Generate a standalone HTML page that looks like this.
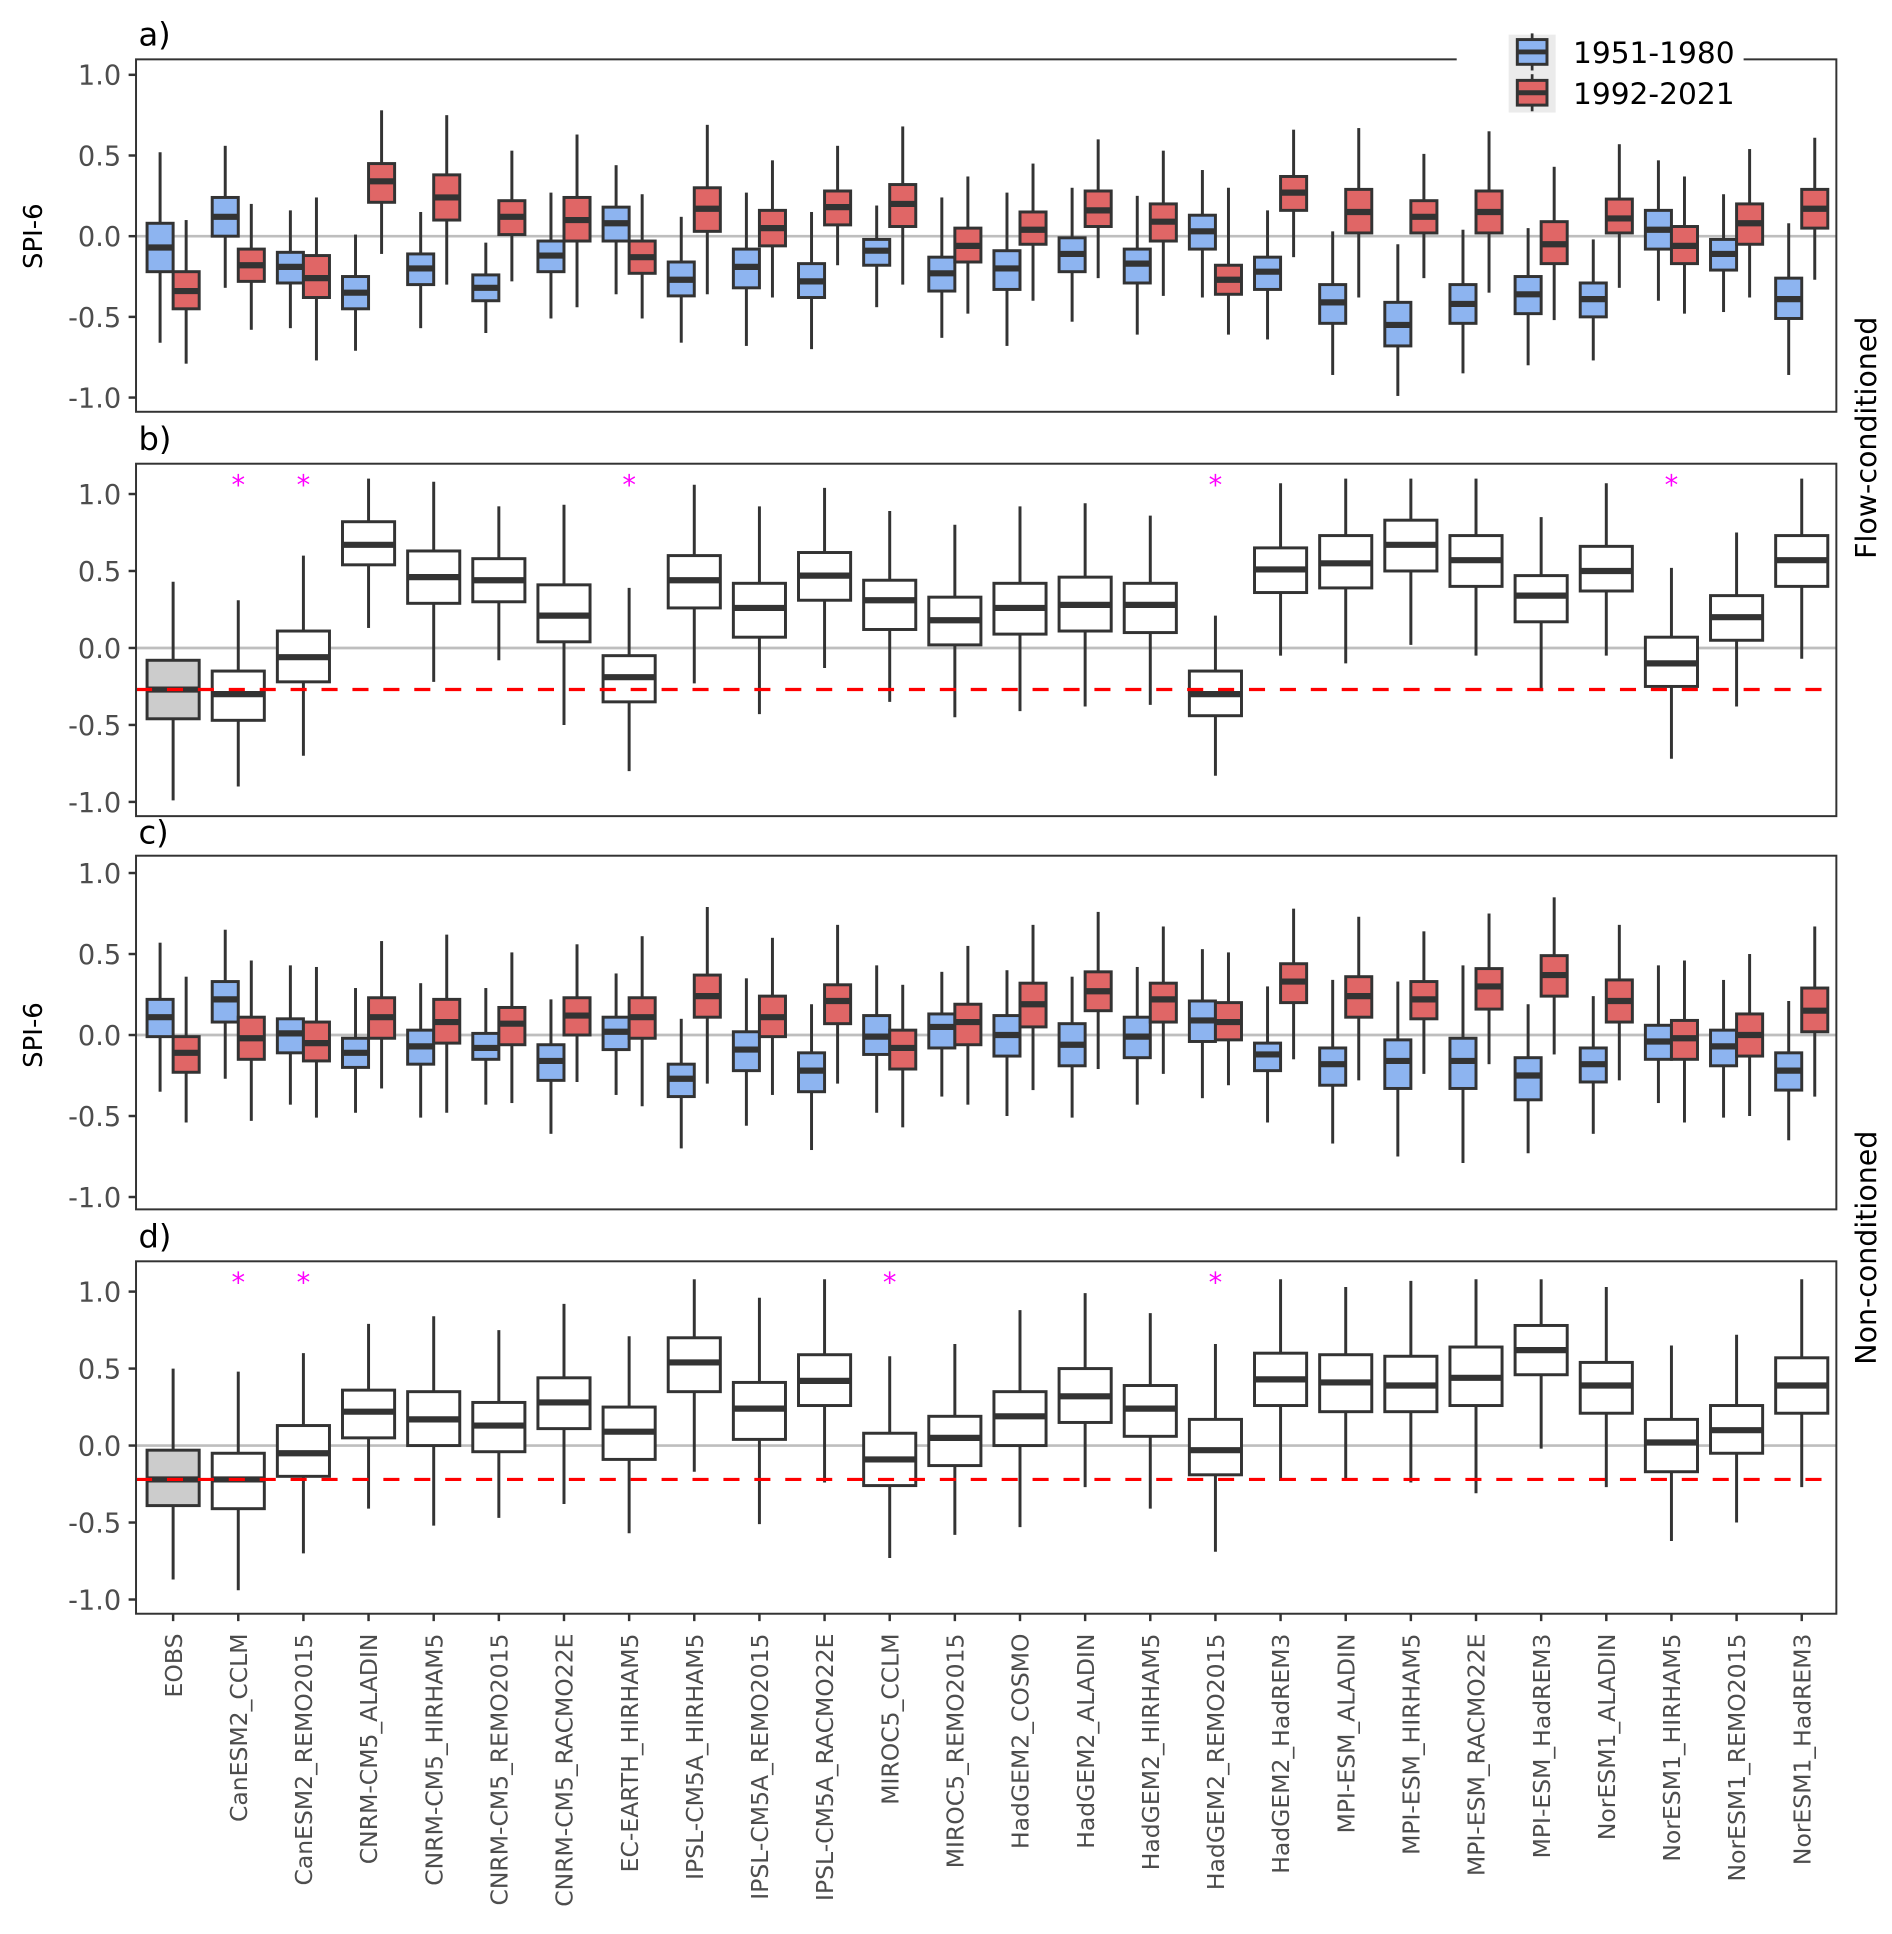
<!DOCTYPE html>
<html><head><meta charset="utf-8"><style>
html,body{margin:0;padding:0;background:#fff;}
svg{display:block;}
text{font-family:"DejaVu Sans","Liberation Sans",sans-serif;}
</style></head><body>
<svg id="chart" xmlns="http://www.w3.org/2000/svg" width="1892" height="1934" viewBox="0 0 1530 1564" preserveAspectRatio="none">
<rect x="0" y="0" width="1530" height="1564" fill="#fff"/>
<g id="root"></g>
</svg>
<script>
// ---- data ----
const categories = ["EOBS","CanESM2_CCLM","CanESM2_REMO2015","CNRM-CM5_ALADIN","CNRM-CM5_HIRHAM5","CNRM-CM5_REMO2015","CNRM-CM5_RACMO22E","EC-EARTH_HIRHAM5","IPSL-CM5A_HIRHAM5","IPSL-CM5A_REMO2015","IPSL-CM5A_RACMO22E","MIROC5_CCLM","MIROC5_REMO2015","HadGEM2_COSMO","HadGEM2_ALADIN","HadGEM2_HIRHAM5","HadGEM2_REMO2015","HadGEM2_HadREM3","MPI-ESM_ALADIN","MPI-ESM_HIRHAM5","MPI-ESM_RACMO22E","MPI-ESM_HadREM3","NorESM1_ALADIN","NorESM1_HIRHAM5","NorESM1_REMO2015","NorESM1_HadREM3"];
const yTicks = [1.0,0.5,0.0,-0.5,-1.0];
const yTickLabels = ["1.0","0.5","0.0","-0.5","-1.0"];
// each entry: [lowWhisker, q1, median, q3, highWhisker]
const aBlue = [[-0.66,-0.22,-0.07,0.08,0.52],[-0.32,0.0,0.12,0.24,0.56],[-0.57,-0.29,-0.19,-0.1,0.16],[-0.71,-0.45,-0.35,-0.25,0.01],[-0.57,-0.3,-0.2,-0.11,0.15],[-0.6,-0.4,-0.32,-0.24,-0.04],[-0.51,-0.22,-0.12,-0.03,0.27],[-0.36,-0.03,0.08,0.18,0.44],[-0.66,-0.37,-0.27,-0.16,0.12],[-0.68,-0.32,-0.19,-0.08,0.27],[-0.7,-0.38,-0.28,-0.17,0.15],[-0.44,-0.18,-0.09,-0.02,0.19],[-0.63,-0.34,-0.23,-0.13,0.24],[-0.68,-0.33,-0.2,-0.09,0.27],[-0.53,-0.22,-0.11,-0.01,0.3],[-0.61,-0.29,-0.17,-0.08,0.25],[-0.38,-0.08,0.03,0.13,0.41],[-0.64,-0.33,-0.22,-0.13,0.16],[-0.86,-0.54,-0.41,-0.3,0.03],[-0.99,-0.68,-0.55,-0.41,-0.05],[-0.85,-0.54,-0.42,-0.3,0.04],[-0.8,-0.48,-0.36,-0.25,0.05],[-0.77,-0.5,-0.39,-0.29,-0.02],[-0.4,-0.08,0.04,0.16,0.47],[-0.47,-0.21,-0.11,-0.02,0.26],[-0.86,-0.51,-0.39,-0.26,0.08]];
const aRed = [[-0.79,-0.45,-0.34,-0.22,0.1],[-0.58,-0.28,-0.18,-0.08,0.2],[-0.77,-0.38,-0.26,-0.12,0.24],[-0.11,0.21,0.34,0.45,0.78],[-0.3,0.1,0.24,0.38,0.75],[-0.28,0.01,0.12,0.22,0.53],[-0.44,-0.03,0.1,0.24,0.63],[-0.51,-0.23,-0.13,-0.03,0.26],[-0.36,0.03,0.17,0.3,0.69],[-0.38,-0.06,0.05,0.16,0.47],[-0.18,0.07,0.18,0.28,0.56],[-0.3,0.06,0.2,0.32,0.68],[-0.48,-0.16,-0.06,0.05,0.37],[-0.4,-0.05,0.04,0.15,0.45],[-0.26,0.06,0.16,0.28,0.6],[-0.37,-0.03,0.09,0.2,0.53],[-0.61,-0.36,-0.27,-0.18,0.3],[-0.13,0.16,0.27,0.37,0.66],[-0.38,0.02,0.15,0.29,0.67],[-0.26,0.02,0.12,0.22,0.51],[-0.35,0.02,0.15,0.28,0.65],[-0.52,-0.17,-0.05,0.09,0.43],[-0.32,0.02,0.11,0.23,0.57],[-0.48,-0.17,-0.06,0.06,0.37],[-0.38,-0.05,0.08,0.2,0.54],[-0.27,0.05,0.17,0.29,0.61]];
const bVals = [[-0.99,-0.46,-0.27,-0.08,0.43],[-0.9,-0.47,-0.3,-0.15,0.31],[-0.7,-0.22,-0.06,0.11,0.6],[0.13,0.54,0.67,0.82,1.1],[-0.22,0.29,0.46,0.63,1.08],[-0.08,0.3,0.44,0.58,0.92],[-0.5,0.04,0.21,0.41,0.93],[-0.8,-0.35,-0.19,-0.05,0.39],[-0.23,0.26,0.44,0.6,1.06],[-0.43,0.07,0.26,0.42,0.92],[-0.13,0.31,0.47,0.62,1.04],[-0.35,0.12,0.31,0.44,0.89],[-0.45,0.02,0.18,0.33,0.8],[-0.41,0.09,0.26,0.42,0.92],[-0.38,0.11,0.28,0.46,0.94],[-0.37,0.1,0.28,0.42,0.86],[-0.83,-0.44,-0.3,-0.15,0.21],[-0.05,0.36,0.51,0.65,1.07],[-0.1,0.39,0.55,0.73,1.1],[0.02,0.5,0.67,0.83,1.1],[-0.05,0.4,0.57,0.73,1.1],[-0.28,0.17,0.34,0.47,0.85],[-0.05,0.37,0.5,0.66,1.07],[-0.72,-0.25,-0.1,0.07,0.52],[-0.38,0.05,0.2,0.34,0.75],[-0.07,0.4,0.57,0.73,1.1]];
const cBlue = [[-0.35,-0.01,0.11,0.22,0.57],[-0.27,0.08,0.22,0.33,0.65],[-0.43,-0.11,0.01,0.1,0.43],[-0.48,-0.2,-0.11,-0.02,0.29],[-0.51,-0.18,-0.07,0.03,0.32],[-0.43,-0.15,-0.08,0.01,0.29],[-0.61,-0.28,-0.16,-0.06,0.22],[-0.37,-0.09,0.02,0.11,0.38],[-0.7,-0.38,-0.27,-0.18,0.1],[-0.56,-0.22,-0.09,0.02,0.35],[-0.71,-0.35,-0.22,-0.11,0.19],[-0.48,-0.12,-0.01,0.12,0.43],[-0.38,-0.08,0.05,0.13,0.39],[-0.5,-0.13,0.0,0.12,0.4],[-0.51,-0.19,-0.06,0.07,0.36],[-0.43,-0.14,-0.01,0.11,0.42],[-0.39,-0.04,0.09,0.21,0.53],[-0.54,-0.22,-0.12,-0.05,0.3],[-0.67,-0.31,-0.18,-0.08,0.34],[-0.75,-0.33,-0.16,-0.03,0.33],[-0.79,-0.33,-0.16,-0.02,0.43],[-0.73,-0.4,-0.25,-0.14,0.19],[-0.61,-0.29,-0.18,-0.08,0.24],[-0.42,-0.15,-0.04,0.06,0.43],[-0.51,-0.19,-0.07,0.03,0.34],[-0.65,-0.34,-0.22,-0.11,0.21]];
const cRed = [[-0.54,-0.23,-0.11,-0.01,0.36],[-0.53,-0.15,-0.02,0.11,0.46],[-0.51,-0.16,-0.05,0.08,0.42],[-0.33,-0.02,0.11,0.23,0.58],[-0.48,-0.05,0.08,0.22,0.62],[-0.42,-0.06,0.07,0.17,0.51],[-0.29,0.0,0.12,0.23,0.56],[-0.44,-0.02,0.11,0.23,0.61],[-0.3,0.11,0.24,0.37,0.79],[-0.37,-0.01,0.11,0.24,0.6],[-0.3,0.07,0.21,0.31,0.68],[-0.57,-0.21,-0.08,0.03,0.31],[-0.43,-0.06,0.08,0.19,0.55],[-0.34,0.05,0.19,0.32,0.68],[-0.21,0.15,0.27,0.39,0.76],[-0.24,0.08,0.22,0.32,0.67],[-0.31,-0.03,0.08,0.2,0.51],[-0.15,0.2,0.33,0.44,0.78],[-0.28,0.11,0.24,0.36,0.73],[-0.24,0.1,0.22,0.33,0.64],[-0.18,0.16,0.3,0.41,0.75],[-0.12,0.24,0.37,0.49,0.85],[-0.28,0.08,0.21,0.34,0.68],[-0.54,-0.15,-0.02,0.09,0.46],[-0.5,-0.13,0.0,0.13,0.5],[-0.38,0.02,0.15,0.29,0.67]];
const dVals = [[-0.87,-0.39,-0.22,-0.03,0.5],[-0.94,-0.41,-0.22,-0.05,0.48],[-0.7,-0.2,-0.05,0.13,0.6],[-0.41,0.05,0.22,0.36,0.79],[-0.52,0.0,0.17,0.35,0.84],[-0.47,-0.04,0.13,0.28,0.75],[-0.38,0.11,0.28,0.44,0.92],[-0.57,-0.09,0.09,0.25,0.71],[-0.17,0.35,0.54,0.7,1.08],[-0.51,0.04,0.24,0.41,0.96],[-0.24,0.26,0.42,0.59,1.08],[-0.73,-0.26,-0.09,0.08,0.58],[-0.58,-0.13,0.05,0.19,0.66],[-0.53,0.0,0.19,0.35,0.88],[-0.27,0.15,0.32,0.5,0.99],[-0.41,0.06,0.24,0.39,0.86],[-0.69,-0.19,-0.03,0.17,0.66],[-0.23,0.26,0.43,0.6,1.08],[-0.22,0.22,0.41,0.59,1.03],[-0.24,0.22,0.39,0.58,1.07],[-0.31,0.26,0.44,0.64,1.08],[-0.02,0.46,0.62,0.78,1.08],[-0.27,0.21,0.39,0.54,1.03],[-0.62,-0.17,0.02,0.17,0.65],[-0.5,-0.05,0.1,0.26,0.72],[-0.27,0.21,0.39,0.57,1.08]];
const bRefLine = -0.27;
const dRefLine = -0.22;
const bStars = [1,2,7,16,23];
const dStars = [1,2,11,16];

// ---- layout ----
const NS = "http://www.w3.org/2000/svg";
const root = document.getElementById("root");
const X0 = 110, X1 = 1485;
function xScale(i){ return 140 + i * (1457 - 140) / (categories.length - 1); }
const step = (1457 - 140) / (categories.length - 1);
function mk(tag, attrs, parent){
  const e = document.createElementNS(NS, tag);
  for (const k in attrs) e.setAttribute(k, attrs[k]);
  (parent || root).appendChild(e);
  return e;
}
const panels = [
  {id:"a", top:48, bottom:333, y0:191, unit:130.5, label:"a)", labelY:37},
  {id:"b", top:375, bottom:660, y0:524, unit:124.5, label:"b)", labelY:364},
  {id:"c", top:692, bottom:978, y0:837, unit:131, label:"c)", labelY:682},
  {id:"d", top:1020, bottom:1305, y0:1169, unit:124.5, label:"d)", labelY:1009}
];
function yScaleFor(p){ return v => p.y0 - v * p.unit; }

function drawBox(g, cx, w, vals, ys, fill, name){
  const [lo,q1,med,q3,hi] = vals;
  const bg = mk("g", {}, g);
  
  
  const wl = mk("line", {x1:cx, x2:cx, y1:ys(hi), y2:ys(q3), stroke:"#333", "stroke-width":2.4}, bg);
  
  
  const wl2 = mk("line", {x1:cx, x2:cx, y1:ys(q1), y2:ys(lo), stroke:"#333", "stroke-width":2.4}, bg);
  
  
  const r = mk("rect", {x:cx-w/2, y:ys(q3), width:w, height:ys(q1)-ys(q3), fill:fill, stroke:"#333", "stroke-width":2.4}, bg);
  
  
  const m = mk("line", {x1:cx-w/2, x2:cx+w/2, y1:ys(med), y2:ys(med), stroke:"#333", "stroke-width":5}, bg);
  
  
}

panels.forEach(p => {
  const ys = yScaleFor(p);
  const g = mk("g", {});
  
  
  const lab = mk("text", {x:112, y:p.labelY, "font-size":26, fill:"#000"}, g);
  lab.textContent = p.label;
  
  
  const z = mk("line", {x1:X0, x2:X1, y1:ys(0), y2:ys(0), stroke:"#bebebe", "stroke-width":2.2}, g);
  
  
  yTicks.forEach((t, k) => {
    const tk = mk("line", {x1:X0-6, x2:X0, y1:ys(t), y2:ys(t), stroke:"#333", "stroke-width":2}, g);
    
    
    const tl = mk("text", {x:X0-12, y:ys(t)+8, "font-size":22, fill:"#4d4d4d", "text-anchor":"end"}, g);
    tl.textContent = yTickLabels[k];
    
    
  });
  if (p.id === "a" || p.id === "c") {
    const blue = p.id === "a" ? aBlue : cBlue;
    const red = p.id === "a" ? aRed : cRed;
    const bw = step * 0.8 / 2;
    categories.forEach((c, i) => {
      drawBox(g, xScale(i) - bw/2, bw, blue[i], ys, "#8db4f0", 'box-' + p.id + '-1951-1980-' + i);
      drawBox(g, xScale(i) + bw/2, bw, red[i], ys, "#e06666", 'box-' + p.id + '-1992-2021-' + i);
    });
  } else {
    const vals = p.id === "b" ? bVals : dVals;
    const refV = p.id === "b" ? bRefLine : dRefLine;
    const stars = p.id === "b" ? bStars : dStars;
    const bw = step * 0.8;
    categories.forEach((c, i) => {
      drawBox(g, xScale(i), bw, vals[i], ys, i === 0 ? "#cccccc" : "#ffffff", 'box-' + p.id + '-' + i);
    });
    const rl = mk("line", {x1:X0, x2:X1, y1:ys(refV), y2:ys(refV), stroke:"#ff0000", "stroke-width":2.6, "stroke-dasharray":"13 12"}, g);
    
    
    stars.forEach(i => {
      const s = mk("text", {x:xScale(i), y:p.top + 25, "font-size":22, fill:"#ff00ff", "text-anchor":"middle"}, g);
      s.textContent = "*";
      
      
    });
  }
  const fr = mk("rect", {x:X0, y:p.top, width:X1-X0, height:p.bottom-p.top, fill:"none", stroke:"#333", "stroke-width":1.6}, g);
  
  
});

// x axis (bottom)
const pd = panels[3];
categories.forEach((c, i) => {
  const tk = mk("line", {x1:xScale(i), x2:xScale(i), y1:pd.bottom, y2:pd.bottom+6, stroke:"#333", "stroke-width":2});
  
  
  const t = mk("text", {x:0, y:0, "font-size":19, fill:"#4d4d4d", "text-anchor":"end", transform:`translate(${xScale(i)+7},${pd.bottom+16}) rotate(-90)`});
  t.textContent = c;
  
  
});

// y axis titles
[191, 837].forEach((yc, k) => {
  const t = mk("text", {x:0, y:0, "font-size":21, fill:"#000", "text-anchor":"middle", transform:`translate(34,${yc}) rotate(-90)`});
  t.textContent = "SPI-6";
  
  
});
// strip labels
[["Flow-conditioned",354],["Non-conditioned",1009]].forEach(([s,yc]) => {
  const t = mk("text", {x:0, y:0, "font-size":23, fill:"#000", "text-anchor":"middle", transform:`translate(1517,${yc}) rotate(-90)`});
  t.textContent = s;
  
  
});

// legend
const lg = mk("g", {});


mk("rect", {x:1178, y:40, width:232, height:14, fill:"#fff"}, lg);
mk("rect", {x:1220, y:28, width:38, height:63, fill:"#ebebeb"}, lg);
[["#8db4f0","1951-1980",42],["#e06666","1992-2021",75]].forEach(([col, lbl, yc]) => {
  const e = mk("g", {}, lg);
  
  
  mk("line", {x1:1239, x2:1239, y1:yc-15, y2:yc+15, stroke:"#333", "stroke-width":2.2}, e);
  mk("rect", {x:1227, y:yc-10, width:24, height:20, fill:col, stroke:"#333", "stroke-width":2.4}, e);
  mk("line", {x1:1227, x2:1251, y1:yc, y2:yc, stroke:"#333", "stroke-width":4}, e);
  const t = mk("text", {x:1272, y:yc+9, "font-size":24, fill:"#000"}, e);
  t.textContent = lbl;
});
</script>
</body></html>
